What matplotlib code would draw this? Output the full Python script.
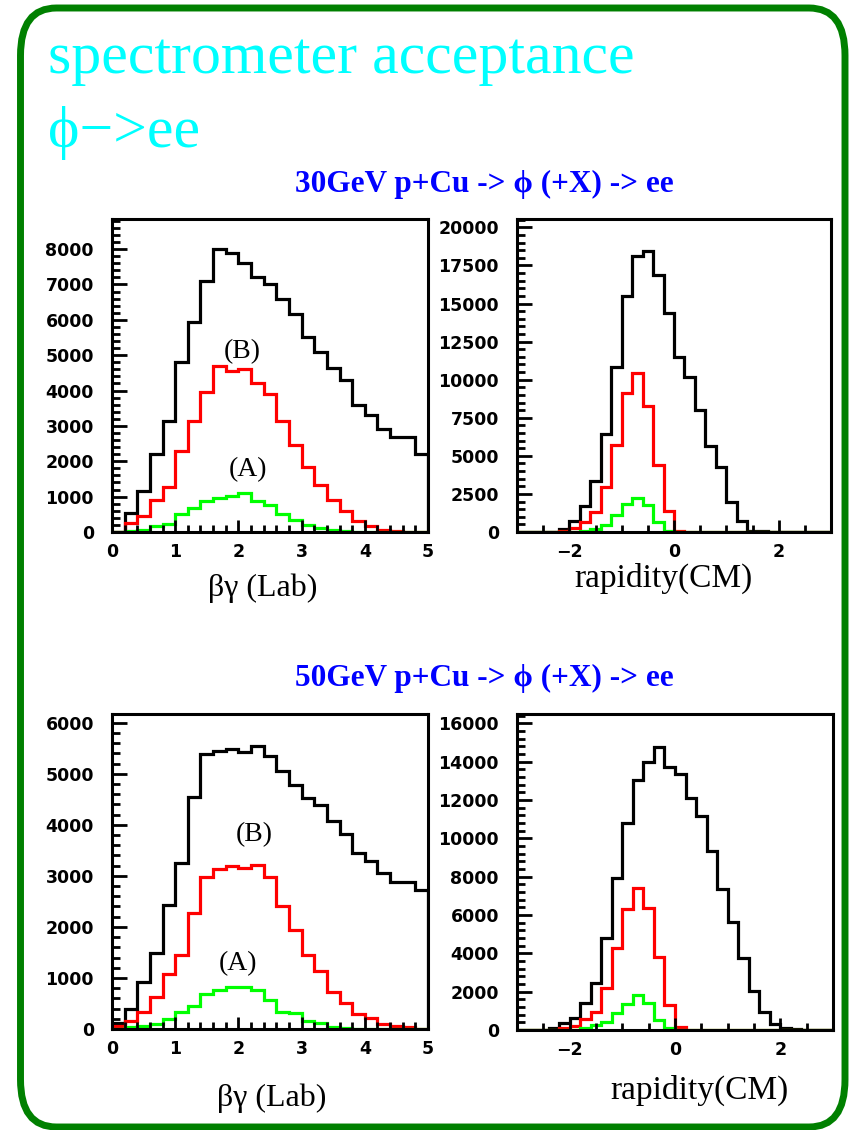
import matplotlib
matplotlib.use("Agg")
import matplotlib.pyplot as plt
import numpy as np
from matplotlib.patches import FancyBboxPatch
from matplotlib.ticker import MultipleLocator

# --- data (counts per bin, bin width 0.2) ---
# 30 GeV, beta*gamma (Lab), 0..5
bg30_all = [0, 550, 1150, 2200, 3150, 4800, 5950, 7100, 8000, 7900, 7600, 7200, 7000,
            6600, 6150, 5500, 5100, 4650, 4300, 3600, 3300, 2900, 2700, 2680, 2200]
bg30_B = [0, 250, 450, 900, 1280, 2300, 3150, 3950, 4700, 4550, 4600, 4200, 3900,
          3150, 2450, 1850, 1320, 900, 600, 300, 180, 60, 40, 0, 0]
bg30_A = [0, 40, 60, 180, 240, 500, 680, 870, 970, 1010, 1100, 890, 750,
          500, 330, 210, 110, 50, 20, 0, 0, 0, 0, 0, 0]

# 30 GeV, rapidity (CM), -3..3
y30_all = [0, 0, 0, 30, 200, 700, 1730, 3370, 6430, 10860, 15500, 18120, 18470, 16870, 14360,
           11470, 10200, 8020, 5660, 4300, 1950, 700, 90, 40, 0, 0, 0, 0, 0, 0]
y30_B = [0, 0, 0, 0, 40, 260, 650, 1290, 2950, 5730, 9110, 10470, 8300, 4410, 1350,
         40, 0, 0, 0, 0, 0, 0, 0, 0, 0, 0, 0, 0, 0, 0]
y30_A = [0, 0, 0, 0, 0, 0, 40, 200, 480, 1140, 1860, 2230, 1790, 650, 40,
         0, 0, 0, 0, 0, 0, 0, 0, 0, 0, 0, 0, 0, 0, 0]

# 50 GeV, beta*gamma (Lab), 0..5
bg50_all = [110, 390, 915, 1480, 2430, 3260, 4540, 5390, 5440, 5490, 5420, 5550, 5340,
            5060, 4770, 4520, 4380, 4070, 3820, 3440, 3300, 3050, 2880, 2870, 2720]
bg50_B = [60, 160, 340, 620, 1080, 1450, 2280, 2970, 3140, 3200, 3150, 3210, 2970,
          2410, 1940, 1450, 1140, 720, 500, 290, 210, 90, 60, 30, 0]
bg50_A = [0, 30, 60, 100, 200, 340, 450, 690, 765, 820, 820, 765, 570,
          340, 310, 160, 110, 45, 25, 0, 0, 0, 0, 0, 0]

# 50 GeV, rapidity (CM), -3..3
y50_all = [0, 0, 0, 90, 350, 610, 1390, 2430, 4780, 7910, 10820, 13040, 14000, 14780, 13700,
           13360, 12120, 11180, 9360, 7340, 5650, 3770, 2030, 960, 310, 90, 30, 0, 0, 0]
y50_B = [0, 0, 0, 0, 90, 210, 570, 920, 2210, 4300, 6310, 7390, 6350, 3830, 1300,
         140, 0, 0, 0, 0, 0, 0, 0, 0, 0, 0, 0, 0, 0, 0]
y50_A = [0, 0, 0, 0, 0, 0, 90, 260, 430, 870, 1360, 1830, 1430, 520, 90,
         0, 0, 0, 0, 0, 0, 0, 0, 0, 0, 0, 0, 0, 0, 0]

bg_edges = np.linspace(0, 5, 26)
y_edges = np.linspace(-3, 3, 31)

W, H = 854, 1130
fig = plt.figure(figsize=(W / 100, H / 100), dpi=100)

serif = ['Liberation Serif', 'DejaVu Serif']

# rounded green frame round the whole slide
frame = FancyBboxPatch((20.5 / W, 1 - 1127 / H), (845 - 20.5) / W, (1127 - 8) / H,
                       boxstyle="round,pad=0,rounding_size=0.042",
                       transform=fig.transFigure, fill=False,
                       edgecolor='#008000', linewidth=5)
fig.patches.append(frame)

fig.text(48 / W, 1 - 73 / H, 'spectrometer acceptance', color='#00ffff',
         fontsize=43, family=serif, va='baseline')
fig.text(48 / W, 1 - 147 / H, 'ϕ−>ee', color='#00ffff',
         fontsize=43, family=serif, va='baseline')

fig.text(484 / W, 1 - 192 / H, '30GeV p+Cu -> ϕ (+X) -> ee', color='#0000ff',
         fontsize=22.5, family=serif, weight='bold', ha='center', va='baseline')
fig.text(484 / W, 1 - 686 / H, '50GeV p+Cu -> ϕ (+X) -> ee', color='#0000ff',
         fontsize=22.5, family=serif, weight='bold', ha='center', va='baseline')


def make_axes(l, t, r, b):
    return fig.add_axes([l / W, 1 - b / H, (r - l) / W, (b - t) / H])


def style(ax, xmaj, xmin, ymaj, ymin):
    for s in ax.spines.values():
        s.set_linewidth(2.2)
    ax.xaxis.set_major_locator(MultipleLocator(xmaj))
    ax.xaxis.set_minor_locator(MultipleLocator(xmin))
    ax.yaxis.set_major_locator(MultipleLocator(ymaj))
    ax.yaxis.set_minor_locator(MultipleLocator(ymin))
    ax.tick_params(which='both', direction='in', top=False, right=False, width=2)
    ax.tick_params(axis='y', which='major', length=11, pad=13)
    ax.tick_params(axis='y', which='minor', length=6)
    ax.tick_params(axis='x', which='major', length=9, pad=8)
    ax.tick_params(axis='x', which='minor', length=5)
    for lab in ax.get_xticklabels() + ax.get_yticklabels():
        lab.set_fontweight('bold')
        lab.set_fontsize(12.5)
        lab.set_family('DejaVu Sans')


def draw(ax, edges, allv, bv, av):
    ax.stairs(allv, edges, color='black', linewidth=2.3, baseline=0)
    ax.stairs(bv, edges, color='#ff0000', linewidth=2.3, baseline=0)
    ax.stairs(av, edges, color='#00ff00', linewidth=2.3, baseline=0)


# 30 GeV, beta*gamma
ax1 = make_axes(112, 219, 428, 532)
draw(ax1, bg_edges, bg30_all, bg30_B, bg30_A)
ax1.set_xlim(0, 5)
ax1.set_ylim(0, 8850)
style(ax1, 1, 0.2, 1000, 200)
ax1.text(2.06, 5090, '(B)', fontsize=20, family=serif, ha='center', va='center')
ax1.text(2.15, 1750, '(A)', fontsize=20, family=serif, ha='center', va='center')
fig.text(263 / W, 1 - 588 / H, 'βγ (Lab)', fontsize=23, family=serif, ha='center', va='center')

# 30 GeV, rapidity
ax2 = make_axes(517, 219, 831, 532)
draw(ax2, y_edges, y30_all, y30_B, y30_A)
ax2.set_xlim(-3, 3)
ax2.set_ylim(0, 20550)
style(ax2, 2, 0.5, 2500, 500)
fig.text(663 / W, 1 - 578 / H, 'rapidity(CM)', fontsize=24, family=serif, ha='center', va='center')

# 50 GeV, beta*gamma
ax3 = make_axes(112, 714, 428, 1029)
draw(ax3, bg_edges, bg50_all, bg50_B, bg50_A)
ax3.set_xlim(0, 5)
ax3.set_ylim(0, 6170)
style(ax3, 1, 0.2, 1000, 200)
ax3.text(2.25, 3800, '(B)', fontsize=20, family=serif, ha='center', va='center')
ax3.text(2.0, 1290, '(A)', fontsize=20, family=serif, ha='center', va='center')
fig.text(272 / W, 1 - 1098 / H, 'βγ (Lab)', fontsize=23, family=serif, ha='center', va='center')

# 50 GeV, rapidity
ax4 = make_axes(517, 714, 833, 1030)
draw(ax4, y_edges, y50_all, y50_B, y50_A)
ax4.set_xlim(-3, 3)
ax4.set_ylim(0, 16490)
style(ax4, 2, 0.5, 2000, 400)
fig.text(699 / W, 1 - 1090 / H, 'rapidity(CM)', fontsize=24, family=serif, ha='center', va='center')

fig.savefig('out.png', dpi=100)
